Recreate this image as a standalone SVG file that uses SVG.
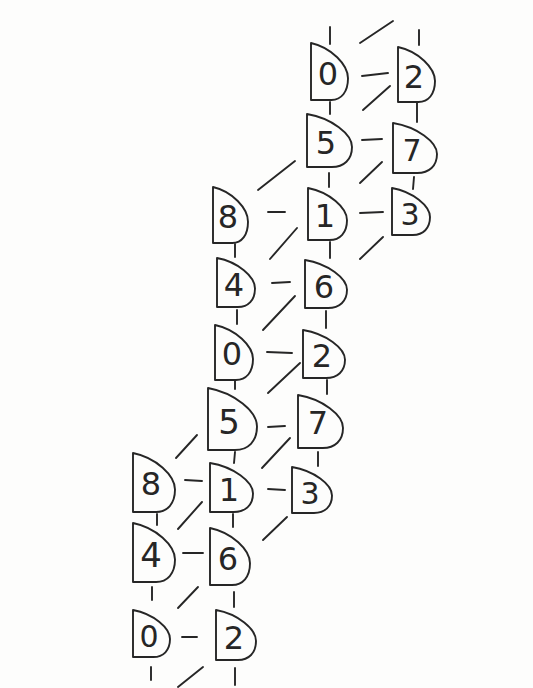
<svg xmlns="http://www.w3.org/2000/svg" width="533" height="688" viewBox="0 0 533 688">
<style>
.n{fill:none;stroke:#262626;stroke-width:1.9;stroke-linejoin:round;stroke-linecap:round}
.t{font-family:"DejaVu Sans","Liberation Sans",sans-serif;fill:#262626;text-anchor:middle;dominant-baseline:central}
.c line{stroke:#262626;stroke-width:1.9;stroke-linecap:round}
</style>
<rect width="533" height="688" fill="#fdfdfc"/>
<g id="connectors" class="c">
<line x1="330" y1="27" x2="330" y2="44"/>
<line x1="419" y1="30" x2="419" y2="45"/>
<line x1="330" y1="102" x2="330" y2="114"/>
<line x1="417" y1="103" x2="417" y2="122"/>
<line x1="329" y1="173" x2="329" y2="187"/>
<line x1="414" y1="177" x2="413" y2="189"/>
<line x1="235" y1="244" x2="235" y2="257"/>
<line x1="330" y1="242" x2="330" y2="258"/>
<line x1="237" y1="310" x2="237" y2="324"/>
<line x1="326" y1="311" x2="326" y2="328"/>
<line x1="235" y1="381" x2="235" y2="389"/>
<line x1="327" y1="380" x2="327" y2="394"/>
<line x1="235" y1="452" x2="234" y2="463"/>
<line x1="318" y1="452" x2="318" y2="466"/>
<line x1="157" y1="514" x2="157" y2="525"/>
<line x1="233" y1="514" x2="233" y2="527"/>
<line x1="152" y1="587" x2="152" y2="600"/>
<line x1="234" y1="592" x2="234" y2="607"/>
<line x1="151" y1="667" x2="151" y2="680"/>
<line x1="235" y1="668" x2="235" y2="685"/>
<line x1="362" y1="76" x2="388" y2="73"/>
<line x1="362" y1="140" x2="382" y2="139"/>
<line x1="268" y1="212" x2="285" y2="212"/>
<line x1="360" y1="213" x2="383" y2="212"/>
<line x1="272" y1="283" x2="290" y2="282"/>
<line x1="267" y1="352" x2="292" y2="353"/>
<line x1="268" y1="427" x2="285" y2="426"/>
<line x1="185" y1="480" x2="202" y2="481"/>
<line x1="268" y1="489" x2="285" y2="490"/>
<line x1="183" y1="553" x2="203" y2="553"/>
<line x1="182" y1="637" x2="197" y2="637"/>
<line x1="360" y1="43" x2="393" y2="21"/>
<line x1="363" y1="110" x2="390" y2="86"/>
<line x1="360" y1="183" x2="382" y2="162"/>
<line x1="258" y1="190" x2="295" y2="161"/>
<line x1="270" y1="259" x2="297" y2="228"/>
<line x1="360" y1="259" x2="383" y2="237"/>
<line x1="263" y1="330" x2="295" y2="296"/>
<line x1="268" y1="393" x2="300" y2="363"/>
<line x1="176" y1="458" x2="197" y2="435"/>
<line x1="262" y1="468" x2="290" y2="438"/>
<line x1="178" y1="529" x2="202" y2="502"/>
<line x1="263" y1="540" x2="287" y2="517"/>
<line x1="178" y1="608" x2="198" y2="587"/>
<line x1="178" y1="687" x2="203" y2="667"/>
</g>
<g id="n1"><path class="n" d="M311,43 C331.4,47.6 348,64.7 348,78.3 C348,92 341.3,100 331.4,100 L311,100 Z"/><text class="t" x="328" y="74" font-size="32">0</text></g>
<g id="n2"><path class="n" d="M398,47 C418.4,51.4 435,67.9 435,81.1 C435,94.3 428.3,102 418.4,102 L398,102 Z"/><text class="t" x="414" y="77" font-size="32">2</text></g>
<g id="n3"><path class="n" d="M307,114 C331.8,118.2 352,134.1 352,146.9 C352,159.6 343.9,167 331.8,167 L307,167 Z"/><text class="t" x="326" y="143" font-size="32">5</text></g>
<g id="n4"><path class="n" d="M393,123 C417.2,127 437,142 437,154 C437,166 429.1,173 417.2,173 L393,173 Z"/><text class="t" x="412" y="150" font-size="30">7</text></g>
<g id="n5"><path class="n" d="M213,187 C232.3,191.5 248,208.3 248,221.7 C248,235.2 241.7,243 232.3,243 L213,243 Z"/><text class="t" x="228" y="217" font-size="32">8</text></g>
<g id="n6"><path class="n" d="M308,188 C329.5,192.2 347,207.8 347,220.2 C347,232.7 340,240 329.5,240 L308,240 Z"/><text class="t" x="325" y="216" font-size="32">1</text></g>
<g id="n7"><path class="n" d="M392,188 C412.9,191.8 430,205.9 430,217.1 C430,228.4 423.2,235 412.9,235 L392,235 Z"/><text class="t" x="410" y="214" font-size="30">3</text></g>
<g id="n8"><path class="n" d="M217,258 C237.9,261.9 255,276.6 255,288.4 C255,300.1 248.2,307 237.9,307 L217,307 Z"/><text class="t" x="234" y="285" font-size="32">4</text></g>
<g id="n9"><path class="n" d="M305,260 C328.1,263.8 347,278.2 347,289.8 C347,301.3 339.4,308 328.1,308 L305,308 Z"/><text class="t" x="324" y="287" font-size="32">6</text></g>
<g id="n10"><path class="n" d="M215,325 C235.9,329.4 253,345.9 253,359.1 C253,372.3 246.2,380 235.9,380 L215,380 Z"/><text class="t" x="232" y="354" font-size="32">0</text></g>
<g id="n11"><path class="n" d="M303,330 C326.1,333.8 345,348.2 345,359.8 C345,371.3 337.4,378 326.1,378 L303,378 Z"/><text class="t" x="322" y="356" font-size="32">2</text></g>
<g id="n12"><path class="n" d="M208,388 C235,393 257,411.6 257,426.4 C257,441.3 248.2,450 235,450 L208,450 Z"/><text class="t" x="229" y="422" font-size="34">5</text></g>
<g id="n13"><path class="n" d="M298,395 C322.8,399.2 343,415.1 343,427.9 C343,440.6 334.9,448 322.8,448 L298,448 Z"/><text class="t" x="318" y="423" font-size="32">7</text></g>
<g id="n14"><path class="n" d="M133,453 C156.1,457.7 175,475.4 175,489.6 C175,503.7 167.4,512 156.1,512 L133,512 Z"/><text class="t" x="151" y="484" font-size="32">8</text></g>
<g id="n15"><path class="n" d="M210,463 C233.7,466.9 253,481.6 253,493.4 C253,505.1 245.3,512 233.7,512 L210,512 Z"/><text class="t" x="229" y="490" font-size="32">1</text></g>
<g id="n16"><path class="n" d="M292,467 C314,470.7 332,484.5 332,495.5 C332,506.6 324.8,513 314,513 L292,513 Z"/><text class="t" x="310" y="493" font-size="30">3</text></g>
<g id="n17"><path class="n" d="M133,523 C156.1,527.7 175,545.4 175,559.6 C175,573.7 167.4,582 156.1,582 L133,582 Z"/><text class="t" x="151" y="555" font-size="34">4</text></g>
<g id="n18"><path class="n" d="M210,528 C232,532.6 250,549.7 250,563.3 C250,577 242.8,585 232,585 L210,585 Z"/><text class="t" x="228" y="559" font-size="32">6</text></g>
<g id="n19"><path class="n" d="M133,610 C153.4,613.8 170,627.9 170,639.1 C170,650.4 163.3,657 153.4,657 L133,657 Z"/><text class="t" x="149" y="636" font-size="30">0</text></g>
<g id="n20"><path class="n" d="M216,610 C238,614 256,629 256,641 C256,653 248.8,660 238,660 L216,660 Z"/><text class="t" x="234" y="638" font-size="32">2</text></g>
</svg>
